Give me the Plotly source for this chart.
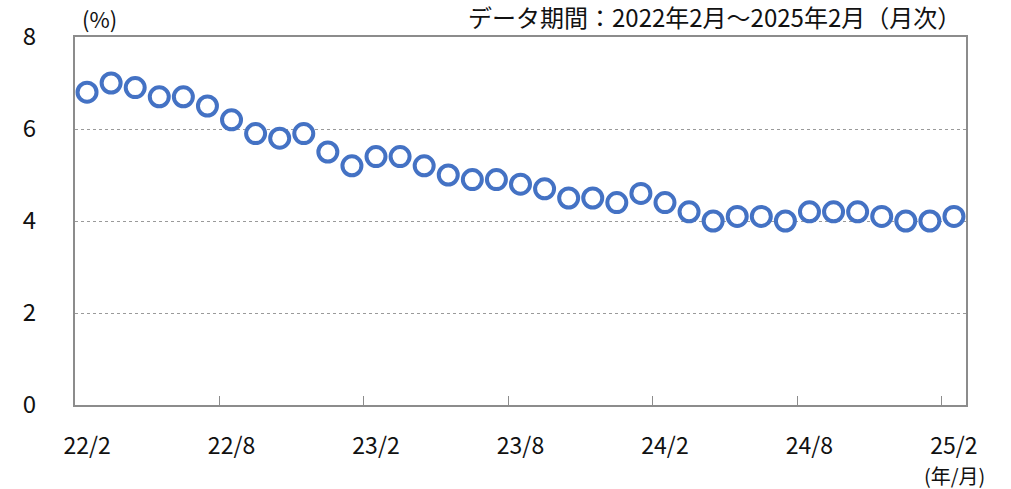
import plotly.graph_objects as go

months = []
for y in (22, 23, 24, 25):
    for m in range(1, 13):
        if (y == 22 and m < 2) or (y == 25 and m > 2):
            continue
        months.append(f"{y}/{m}")

values = [6.8, 7.0, 6.9, 6.7, 6.7, 6.5, 6.2, 5.9, 5.8, 5.9, 5.5, 5.2,
          5.4, 5.4, 5.2, 5.0, 4.9, 4.9, 4.8, 4.7, 4.5, 4.5, 4.4, 4.6,
          4.4, 4.2, 4.0, 4.1, 4.1, 4.0, 4.2, 4.2, 4.2, 4.1, 4.0, 4.0, 4.1]

tick_labels = ["22/2", "22/8", "23/2", "23/8", "24/2", "24/8", "25/2"]
y_ticks = [0, 2, 4, 6, 8]

FONT = "Noto Sans CJK JP"
BLUE = "#4472C4"
GRAY = "#8c8c8c"
TXT = "#111111"

fig = go.Figure()
fig.add_trace(go.Scatter(
    x=months, y=values, mode="markers",
    marker=dict(symbol="circle", size=19, color="white",
                line=dict(color=BLUE, width=4)),
    cliponaxis=False, showlegend=False, hoverinfo="skip",
))

fig.update_layout(
    width=1011, height=489,
    margin=dict(l=75, r=45, t=37, b=84),
    paper_bgcolor="white", plot_bgcolor="white",
    font=dict(family=FONT, size=24, color=TXT),
    xaxis=dict(
        type="category", categoryorder="array", categoryarray=months,
        tickmode="array", tickvals=tick_labels, ticktext=tick_labels,
        tickson="boundaries", ticks="inside", ticklen=9, tickwidth=1,
        tickcolor=GRAY, showgrid=False, showline=True, linecolor=GRAY,
        linewidth=2, mirror=True, ticklabelstandoff=19, tickangle=0,
        automargin=False,
        tickfont=dict(family=FONT, size=23, color=TXT),
        range=[-0.5, len(months) - 0.5], zeroline=False,
    ),
    yaxis=dict(
        range=[0, 8], tickvals=y_ticks, ticks="", showgrid=True,
        gridcolor="#9a9a9a", griddash="dot", gridwidth=1,
        showline=True, linecolor=GRAY, linewidth=2, mirror=True,
        zeroline=False, ticklabelstandoff=32, automargin=False,
        tickfont=dict(family=FONT, size=24, color=TXT),
    ),
    annotations=[
        dict(text="(%)", xref="paper", yref="paper", x=0.028, y=1.0,
             yshift=19, xanchor="center", yanchor="middle", showarrow=False,
             font=dict(family=FONT, size=22, color=TXT)),
        dict(text="データ期間：2022年2月～2025年2月（月次）", xref="paper",
             yref="paper", x=1.0, y=1.0, xshift=-3, yshift=21,
             xanchor="right", yanchor="middle", showarrow=False,
             font=dict(family=FONT, size=24, color=TXT)),
        dict(text="(年/月)", xref="paper", yref="paper", x=0.987, y=0.0,
             yshift=-70, xanchor="center", yanchor="middle", showarrow=False,
             font=dict(family=FONT, size=20, color=TXT)),
    ],
)

fig.write_html("out.html", config={"displayModeBar": False})

with open("out.html", "r", encoding="utf-8") as f:
    html = f.read()
html = html.replace("<head>", "<head><style>html,body{margin:0;padding:0;}</style>", 1)
with open("out.html", "w", encoding="utf-8") as f:
    f.write(html)
